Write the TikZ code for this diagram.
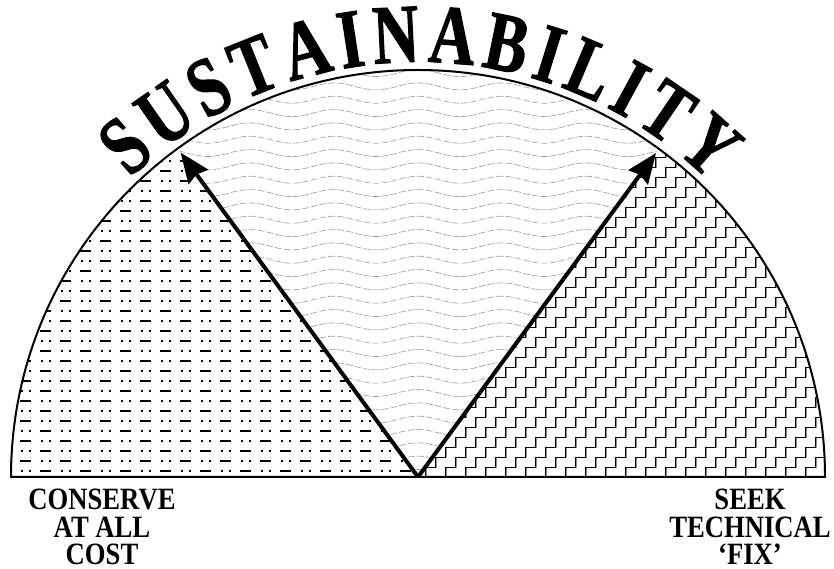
\documentclass[tikz,border=0pt]{standalone}
\usepackage{fontspec}
\setmainfont{Liberation Serif}
\newfontfamily\titlefont{Liberation Serif}[FakeStretch=0.76,FakeBold=1.2]
\newfontfamily\lblfont{Liberation Serif}[FakeStretch=0.86]
\usetikzlibrary{arrows.meta,calc}
\begin{document}
\begin{tikzpicture}[x=1pt,y=1pt,
  ttl/.style={font=\titlefont\bfseries\fontsize{84}{84}\selectfont, inner sep=0pt, anchor=base},
  lbl/.style={font=\lblfont\bfseries\fontsize{31}{31}\selectfont, inner sep=0pt, anchor=base},
  outline/.style={line width=2pt, line join=round},
  bigarrow/.style={line width=4pt, -{Stealth[length=30pt,width=24pt,inset=3pt]}},
  dashrow/.style={line width=1.3pt, dash pattern=on 11pt off 10pt on 1.5pt off 6.5pt on 1.5pt off 9.5pt},
  wave/.style={black!40, line width=0.6pt, dash pattern=on 7pt off 2pt},
  stair/.style={line width=0.9pt, line join=miter},
  stairshadow/.style={black!45, line width=0.9pt, line join=miter}]
\useasboundingbox (0,0) rectangle (834,569);
\coordinate (C) at (418,92);
\def\R{407}
\coordinate (L) at (11,92);
% left sector: dash-dot rows
\begin{scope}
\clip (C) -- (L) arc[start angle=180,end angle=126.2,radius=\R] -- cycle;
\foreach \k in {0,...,32} {
  \pgfmathsetmacro\ph{mod(\k,2)*20}
  \draw[dashrow, dash phase=\ph pt] (0,98+10*\k) -- (430,98+10*\k);
}
\end{scope}
% middle sector: waves
\begin{scope}
\clip (C) -- ([shift={(126.2:\R)}]C) arc[start angle=126.2,end angle=53.7,radius=\R] -- cycle;
\foreach \k in {0,...,31} {
  \draw[wave] plot[domain=160:680, samples=90, smooth] (\x, {96+13.33*\k + 3.5*cos((\x-418)/84*360)});
}
\end{scope}
% right sector: stairs
\begin{scope}
\clip (C) -- ([shift={(53.7:\R)}]C) arc[start angle=53.7,end angle=0,radius=\R] -- cycle;
\foreach \k in {0,...,41} {
  \draw[stairshadow] (16.6+20*\k, 91.1) \foreach \j in {1,...,34} { -- ++(10,0) -- ++(0,10) };
  \draw[stair] (15.7+20*\k, 92) \foreach \j in {1,...,34} { -- ++(10,0) -- ++(0,10) };
}
\end{scope}
% outline
\draw[outline] (L) arc[start angle=180,end angle=0,radius=\R] -- cycle;
% arrows
\coordinate (TL) at ([shift={(126.2:402)}]C);
\coordinate (TR) at ([shift={(53.7:402)}]C);
\draw[bigarrow] (C) -- (TL);
\draw[bigarrow] (C) -- (TR);
% title
\foreach \L/\a [count=\i] in {S/131.5,U/124.86,S/118.22,T/111.83,A/104.71,I/98.79,N/92.87,A/85.51,B/78.40,I/72.72,L/67.04,I/61.36,T/55.67,Y/48.56}
  \node[ttl, rotate=\a-90] (t\i) at ([shift={(\a:415)}]C) {\L};
% labels
\node[lbl] (c1) at (102,59) {CONSERVE};
\node[lbl] (c2) at (102,31) {AT ALL};
\node[lbl] (c3) at (102,4) {COST};
\node[lbl] (s1) at (750,59) {SEEK};
\node[lbl] (s2) at (750,31) {TECHNICAL};
\node[lbl] (s3) at (750,4) {‘FIX’};
\end{tikzpicture}
\end{document}
